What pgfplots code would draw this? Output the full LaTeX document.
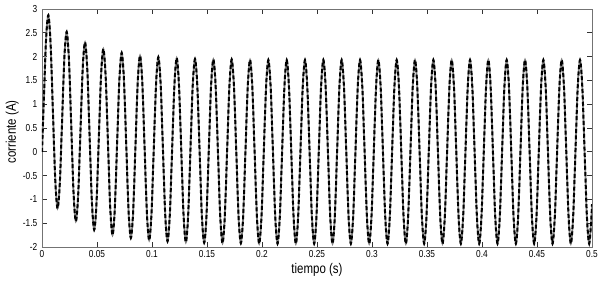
\documentclass[border=0pt]{standalone}
\usepackage{fontspec}
\setmainfont{Liberation Sans}[FakeStretch=0.82]
\usepackage{pgfplots}
\usepackage{pgfplotstable}
\pgfplotsset{compat=1.18}
\pgfplotstableread[row sep=\\]{
t i\\
0 0\\
0.00161 1.05\\ 0.00369 2.36\\ 0.00578 2.87\\ 0.00786 2.25\\ 0.00994 0.83\\ 0.01203 -0.58\\ 0.01411 -1.19\\ 0.01619 -0.66\\
0.01827 0.66\\ 0.02036 1.99\\ 0.02244 2.52\\ 0.02452 1.92\\ 0.02661 0.53\\ 0.02869 -0.87\\ 0.03077 -1.46\\ 0.03286 -0.92\\
0.03494 0.42\\ 0.03702 1.76\\ 0.03911 2.30\\ 0.04119 1.72\\ 0.04327 0.33\\ 0.04536 -1.05\\ 0.04744 -1.64\\ 0.04952 -1.09\\
0.05161 0.26\\ 0.05369 1.61\\ 0.05577 2.16\\ 0.05786 1.59\\ 0.05994 0.21\\ 0.06202 -1.17\\ 0.06411 -1.75\\ 0.06619 -1.19\\
0.06827 0.17\\ 0.07036 1.52\\ 0.07244 2.08\\ 0.07452 1.50\\ 0.07661 0.13\\ 0.07869 -1.24\\ 0.08077 -1.81\\ 0.08286 -1.26\\
0.08494 0.10\\ 0.08702 1.46\\ 0.08911 2.02\\ 0.09119 1.45\\ 0.09327 0.08\\ 0.09536 -1.29\\ 0.09744 -1.86\\ 0.09952 -1.30\\
0.10161 0.07\\ 0.10369 1.43\\ 0.10577 1.99\\ 0.10786 1.42\\ 0.10994 0.05\\ 0.11202 -1.32\\ 0.11411 -1.88\\ 0.11619 -1.32\\
0.11827 0.04\\ 0.12036 1.40\\ 0.12244 1.97\\ 0.12452 1.40\\ 0.12661 0.03\\ 0.12869 -1.33\\ 0.13077 -1.90\\ 0.13286 -1.34\\
0.13494 0.03\\ 0.13702 1.39\\ 0.13911 1.95\\ 0.14119 1.39\\ 0.14327 0.02\\ 0.14536 -1.35\\ 0.14744 -1.91\\ 0.14952 -1.35\\
0.15161 0.02\\ 0.15369 1.38\\ 0.15577 1.94\\ 0.15786 1.38\\ 0.15994 0.01\\ 0.16202 -1.35\\ 0.16411 -1.92\\ 0.16619 -1.35\\
0.16827 0.01\\ 0.17036 1.37\\ 0.17244 1.94\\ 0.17452 1.37\\ 0.17661 0.01\\ 0.17869 -1.36\\ 0.18077 -1.92\\ 0.18286 -1.36\\
0.18494 0\\ 0.18702 1.36\\ 0.18911 1.93\\ 0.19119 1.36\\ 0.19327 0\\ 0.19536 -1.36\\ 0.19744 -1.93\\ 0.19952 -1.36\\
0.20161 0\\ 0.20369 1.36\\ 0.20577 1.93\\ 0.20786 1.36\\ 0.20994 0\\ 0.21202 -1.36\\ 0.21411 -1.93\\ 0.21619 -1.36\\
0.21827 0\\ 0.22036 1.36\\ 0.22244 1.93\\ 0.22452 1.36\\ 0.22661 0\\ 0.22869 -1.36\\ 0.23077 -1.93\\ 0.23286 -1.36\\
0.23494 0\\ 0.23702 1.36\\ 0.23911 1.93\\ 0.24119 1.36\\ 0.24327 0\\ 0.24536 -1.36\\ 0.24744 -1.93\\ 0.24952 -1.36\\
0.25161 0\\ 0.25369 1.36\\ 0.25577 1.93\\ 0.25786 1.36\\ 0.25994 0\\ 0.26202 -1.36\\ 0.26411 -1.93\\ 0.26619 -1.36\\
0.26827 0\\ 0.27036 1.36\\ 0.27244 1.93\\ 0.27452 1.36\\ 0.27661 0\\ 0.27869 -1.36\\ 0.28077 -1.93\\ 0.28286 -1.36\\
0.28494 0\\ 0.28702 1.36\\ 0.28911 1.93\\ 0.29119 1.36\\ 0.29327 0\\ 0.29536 -1.36\\ 0.29744 -1.93\\ 0.29952 -1.36\\
0.30161 0\\ 0.30369 1.36\\ 0.30577 1.93\\ 0.30786 1.36\\ 0.30994 0\\ 0.31202 -1.36\\ 0.31411 -1.93\\ 0.31619 -1.36\\
0.31827 0\\ 0.32036 1.36\\ 0.32244 1.93\\ 0.32452 1.36\\ 0.32661 0\\ 0.32869 -1.36\\ 0.33077 -1.93\\ 0.33286 -1.36\\
0.33494 0\\ 0.33702 1.36\\ 0.33911 1.93\\ 0.34119 1.36\\ 0.34327 0\\ 0.34536 -1.36\\ 0.34744 -1.93\\ 0.34952 -1.36\\
0.35161 0\\ 0.35369 1.36\\ 0.35577 1.93\\ 0.35786 1.36\\ 0.35994 0\\ 0.36202 -1.36\\ 0.36411 -1.93\\ 0.36619 -1.36\\
0.36827 0\\ 0.37036 1.36\\ 0.37244 1.93\\ 0.37452 1.36\\ 0.37661 0\\ 0.37869 -1.36\\ 0.38077 -1.93\\ 0.38286 -1.36\\
0.38494 0\\ 0.38702 1.36\\ 0.38911 1.93\\ 0.39119 1.36\\ 0.39327 0\\ 0.39536 -1.36\\ 0.39744 -1.93\\ 0.39952 -1.36\\
0.40161 0\\ 0.40369 1.36\\ 0.40577 1.93\\ 0.40786 1.36\\ 0.40994 0\\ 0.41202 -1.36\\ 0.41411 -1.93\\ 0.41619 -1.36\\
0.41827 0\\ 0.42036 1.36\\ 0.42244 1.93\\ 0.42452 1.36\\ 0.42661 0\\ 0.42869 -1.36\\ 0.43077 -1.93\\ 0.43286 -1.36\\
0.43494 0\\ 0.43702 1.36\\ 0.43911 1.93\\ 0.44119 1.36\\ 0.44327 0\\ 0.44536 -1.36\\ 0.44744 -1.93\\ 0.44952 -1.36\\
0.45161 0\\ 0.45369 1.36\\ 0.45577 1.93\\ 0.45786 1.36\\ 0.45994 0\\ 0.46202 -1.36\\ 0.46411 -1.93\\ 0.46619 -1.36\\
0.46827 0\\ 0.47036 1.36\\ 0.47244 1.93\\ 0.47452 1.36\\ 0.47661 0\\ 0.47869 -1.36\\ 0.48077 -1.93\\ 0.48286 -1.36\\
0.48494 0\\ 0.48702 1.36\\ 0.48911 1.93\\ 0.49119 1.36\\ 0.49327 0\\ 0.49536 -1.36\\ 0.49744 -1.93\\ 0.49952 -1.36\\
0.5 -1.10\\
}\current
\begin{document}
\begin{tikzpicture}
\useasboundingbox (-31.5pt,-24.75pt) rectangle (420pt,185.25pt);
\begin{axis}[
  at={(0,0)}, anchor=south west,
  scale only axis, width=412.5pt, height=178.5pt,
  xmin=0, xmax=0.5, ymin=-2, ymax=3,
  xtick={0,0.05,...,0.5}, ytick={-2,-1.5,...,3},
  xticklabels={0,0.05,0.1,0.15,0.2,0.25,0.3,0.35,0.4,0.45,0.5},
  yticklabels={-2,-1.5,-1,-0.5,0,0.5,1,1.5,2,2.5,3},
  tick align=inside, major tick length=3.75pt,
  tick style={black!80, line width=0.5pt},
  axis line style={black!55, line width=0.6pt},
  ticklabel style={font=\fontsize{7.6}{8.5}\selectfont},
  xticklabel style={yshift=1pt},
  label style={font=\fontsize{10.5}{12}\selectfont},
  xlabel={tiempo (s)}, ylabel={corriente (A)},
  x label style={at={(axis description cs:0.5,-0.098)}, anchor=center},
  y label style={at={(axis description cs:-0.054,0.483)}, anchor=center},
]
\addplot[black!50, line width=1.3pt, smooth] table[x=t, y=i] {\current};
\addplot[black, line width=1.5pt, smooth, dash pattern=on 3pt off 1.8pt] table[x=t, y=i] {\current};
\end{axis}
\end{tikzpicture}
\end{document}
